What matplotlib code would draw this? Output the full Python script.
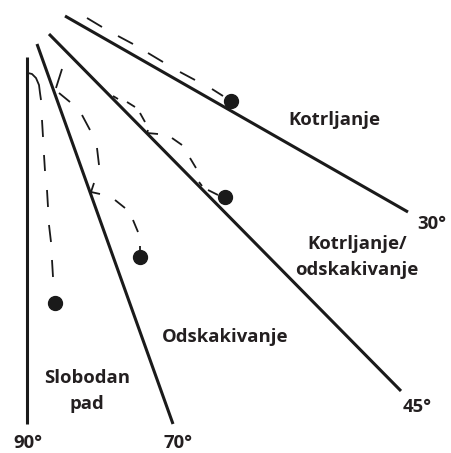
import matplotlib
matplotlib.use('Agg')
import matplotlib.pyplot as plt

plt.rcParams['font.family'] = ['Open Sans', 'DejaVu Sans']

# Boundary lines between motion regimes (image pixel coordinates, y downwards)
angle_labels = ['90°', '70°', '45°', '30°']
line_x0 = [27, 37, 49, 65]
line_y0 = [57, 44, 34, 16]
line_x1 = [27, 173, 401, 408]
line_y1 = [424, 424, 391, 212]
angle_label_x = [28, 178, 417, 432]
angle_label_y = [443, 443, 407, 224]

# Regime names
regime_labels = ['Kotrljanje', 'Kotrljanje/\nodskakivanje', 'Odskakivanje', 'Slobodan\npad']
regime_x = [334, 357, 225, 87]
regime_y = [120, 257, 337, 391]

# Trajectory strokes (visible dash pieces) for each regime
roll_strokes = [
    [(87, 18), (102, 27)], [(118, 36), (133, 44)], [(148, 53), (163, 62)],
    [(180, 72), (195, 80)], [(212, 89), (223, 96)],
]
roll_bounce_strokes = [
    [(113, 96), (118, 99)], [(127, 102), (135, 107)], [(140, 113), (145, 122)],
    [(148, 130), (147, 133), (158, 134)], [(172, 138), (182, 145)],
    [(190, 158), (196, 168)], [(199, 182), (202, 186)], [(208, 190), (218, 195)],
]
bounce_strokes = [
    [(62, 69), (56, 88)], [(59, 93), (70, 102)], [(82, 115), (90, 130)],
    [(97, 148), (99, 165)], [(94, 183), (91, 192), (100, 194)],
    [(115, 200), (125, 208)], [(133, 220), (138, 232)], [(140, 246), (140, 250)],
]
fall_strokes = [
    [(28, 73), (32, 74), (36, 78), (39, 85), (40, 93), (41, 100)],
    [(42, 120), (43, 137)], [(44, 155), (45, 171)], [(47, 190), (48, 207)],
    [(49, 225), (51, 242)], [(52, 260), (53, 277)],
]

# Final positions of the blocks
dot_x = [231, 225, 140, 55]
dot_y = [101, 197, 257, 303]

INK = '#1a1a1a'
TEXT = '#231f20'

fig = plt.figure(figsize=(4.51, 4.53), dpi=100)
ax = fig.add_axes([0, 0, 1, 1])
ax.set_xlim(0, 451)
ax.set_ylim(453, 0)
ax.axis('off')

for x0, y0, x1, y1 in zip(line_x0, line_y0, line_x1, line_y1):
    ax.plot([x0, x1], [y0, y1], color=INK, lw=2.2, solid_capstyle='butt')

for lab, x, y in zip(angle_labels, angle_label_x, angle_label_y):
    ax.text(x, y, lab, ha='center', va='center', fontsize=13.3,
            fontweight='bold', color=TEXT)

for lab, x, y in zip(regime_labels, regime_x, regime_y):
    ax.text(x, y, lab, ha='center', va='center', fontsize=13.3,
            fontweight='bold', color=TEXT, linespacing=1.55)

for strokes in (roll_strokes, roll_bounce_strokes, bounce_strokes, fall_strokes):
    for s in strokes:
        xs = [p[0] for p in s]
        ys = [p[1] for p in s]
        ax.plot(xs, ys, color=INK, lw=1.3, solid_capstyle='butt')

ax.plot(dot_x, dot_y, 'o', color=INK, markersize=10, linestyle='none')

fig.savefig('out.png', dpi=100)
